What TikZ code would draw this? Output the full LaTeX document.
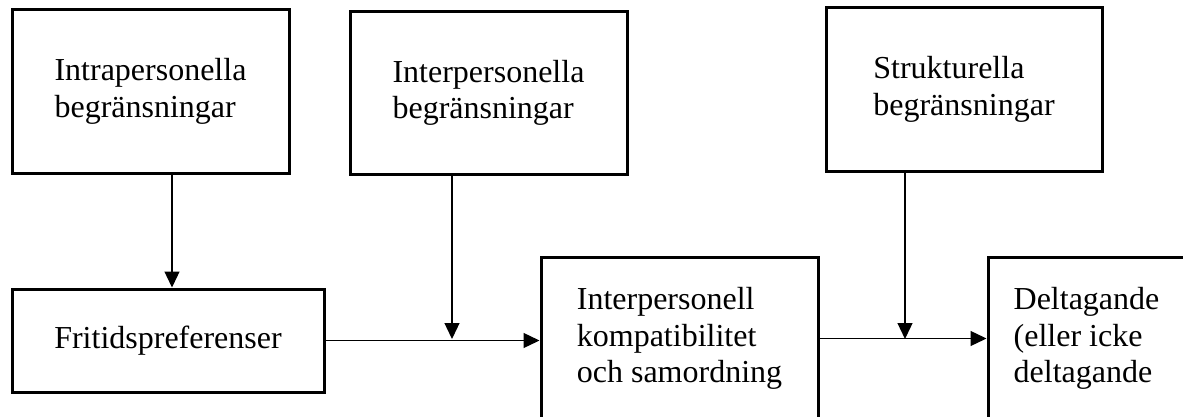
\documentclass[tikz,border=0pt]{standalone}
\usepackage{fontspec}
\setmainfont{Liberation Serif}
\usetikzlibrary{arrows.meta}

\begin{document}
\begin{tikzpicture}[x=1pt, y=-1pt,
                    main box/.style={rectangle,draw,line width=3pt,align=left,inner sep=0pt,
                                     font=\fontsize{32}{36.5}\selectfont},
                    link/.style={line width=1.3pt,-{Triangle[length=16pt,width=15pt]}}]

\clip (0,0) rectangle (1183,417);

\node[main box,minimum width=277,minimum height=163] (intra) at (150.5,91.5) {Intrapersonella\\begränsningar};
  \node[main box,minimum width=277,minimum height=162] (inter) at (488.5,93) {Interpersonella\\begränsningar};
    \node[main box,minimum width=276,minimum height=163] (struk) at (964,89.5) {Strukturella\\begränsningar};
      \node[main box,minimum width=312,minimum height=103] (frit) at (168,340.5) {Fritidspreferenser};
        \node[main box,minimum width=277,minimum height=163] (komp) at (679.5,338.5) {Interpersonell\\kompatibilitet\\och samordning};
          \node[main box,minimum width=197,minimum height=163] (delt) at (1086.5,338.5) {Deltagande\\(eller icke\\deltagande};

\coordinate (j1) at (452,339);
\coordinate (j2) at (905,339);

\draw[link] ([xshift=4pt]intra.south -| frit.north) -- ([xshift=4pt]frit.north);
\draw[link] (frit.east) -- (frit.east -| komp.west);
\draw[link] (inter.south -| j1) -- (j1);
\draw[link] (komp.east) -- (delt.west);
\draw[link] (struk.south -| j2) -- (j2);

\end{tikzpicture}
\end{document}
